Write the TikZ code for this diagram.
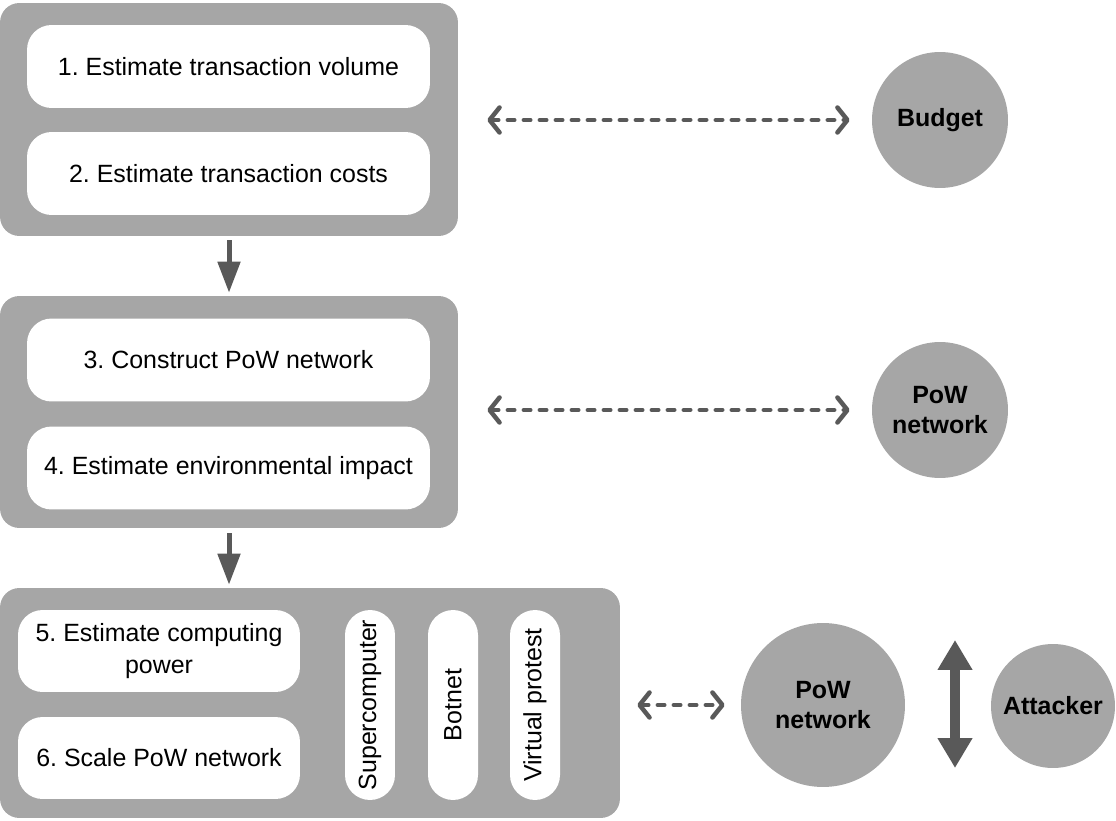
\documentclass[tikz,border=0pt]{standalone}
\usepackage{fontspec}
\setmainfont{Liberation Sans}
\usepackage{tikz}
\usetikzlibrary{arrows.meta, positioning, calc}
\definecolor{mygray}{RGB}{166,166,166}
\definecolor{mydark}{RGB}{89,89,89}
\frenchspacing
\tikzset{
  group/.style={rectangle, fill=mygray, rounded corners=11pt, inner sep=0pt},
  stepbox/.style={rectangle, fill=white, rounded corners=14pt,
    minimum width=8.06cm, minimum height=1.66cm, align=center,
    font=\fontsize{14.2}{18}\selectfont, inner sep=2pt},
  smallbox/.style={stepbox, minimum width=5.64cm, minimum height=1.64cm},
  pill/.style={rectangle, fill=white, rounded corners=0.5cm,
    minimum width=3.8cm, minimum height=1.0cm, rotate=90,
    font=\fontsize{14.2}{17}\selectfont, inner sep=2pt},
  actor/.style={circle, fill=mygray, align=center, inner sep=0pt,
    font=\fontsize{14.2}{17}\selectfont\bfseries},
  flow/.style={-{Triangle[length=0.62cm, width=0.44cm]}, line width=0.1cm,
    color=mydark},
  link/.style={{Straight Barb[round, length=0.2cm, width=0.5cm]}-{Straight Barb[round, length=0.2cm, width=0.5cm]},
    line width=0.09cm, dash pattern=on 0.13cm off 0.19cm, line cap=round, color=mydark},
  bigarrow/.style={{Triangle[length=0.6cm, width=0.66cm]}-{Triangle[length=0.6cm, width=0.66cm]},
    line width=0.2cm, color=mydark}
}

\begin{document}
\begin{tikzpicture}[x=0.02cm, y=-0.02cm]
  \useasboundingbox (0,0) rectangle (1116,821);

  % process groups
  \node[group, minimum width=9.16cm, minimum height=4.66cm] (grpA) at (229,119.5) {};
  \node[group, minimum width=9.16cm, minimum height=4.64cm] (grpB) at (229,412) {};
  \node[group, minimum width=12.4cm, minimum height=4.6cm] (grpC) at (310,703) {};

  \node[stepbox] (est1) at (228.5,66.5) {1. Estimate transaction volume};
  \node[stepbox] (est2) at (228.5,173.5) {2. Estimate transaction costs};
  \node[stepbox] (est3) at (228.5,360) {3. Construct PoW network};
  \node[stepbox] (est4) at (228.5,468) {4. Estimate environmental impact};
  \node[smallbox] (est5) at (159,651) {5. Estimate computing\\power};
  \node[smallbox] (est6) at (159,758) {6. Scale PoW network};

  \node[pill] (super) at (370,705) {Supercomputer};
  \node[pill] (botnet) at (453,705) {Botnet};
  \node[pill] (protest) at (535,705) {Virtual protest};

  % actors
  \node[actor, minimum size=2.72cm] (budget) at (940,120) {Budget};
  \node[actor, minimum size=2.72cm] (pow1) at (940,410) {PoW\\network};
  \node[actor, minimum size=3.28cm] (pow2) at (823,705) {PoW\\network};
  \node[actor, minimum size=2.48cm] (attacker) at (1053,706) {Attacker};

  \coordinate (upend) at (955,640);
  \coordinate (downend) at (955,768);

  \draw[flow, shorten <=0.08cm, shorten >=0.06cm] (grpA.south) -- (grpB.north);
  \draw[flow, shorten <=0.1cm, shorten >=0.06cm] (grpB.south) -- (grpB.south |- grpC.north);

  \draw[link, shorten <=0.58cm, shorten >=0.44cm] (grpA.east |- budget) -- (budget.west);
  \draw[link, shorten <=0.58cm, shorten >=0.44cm] (grpB.east |- pow1) -- (pow1.west);
  \draw[link, shorten <=0.34cm, shorten >=0.32cm] (grpC.east |- pow2) -- (pow2.west);

  \draw[bigarrow] (upend) -- (downend);
\end{tikzpicture}
\end{document}
